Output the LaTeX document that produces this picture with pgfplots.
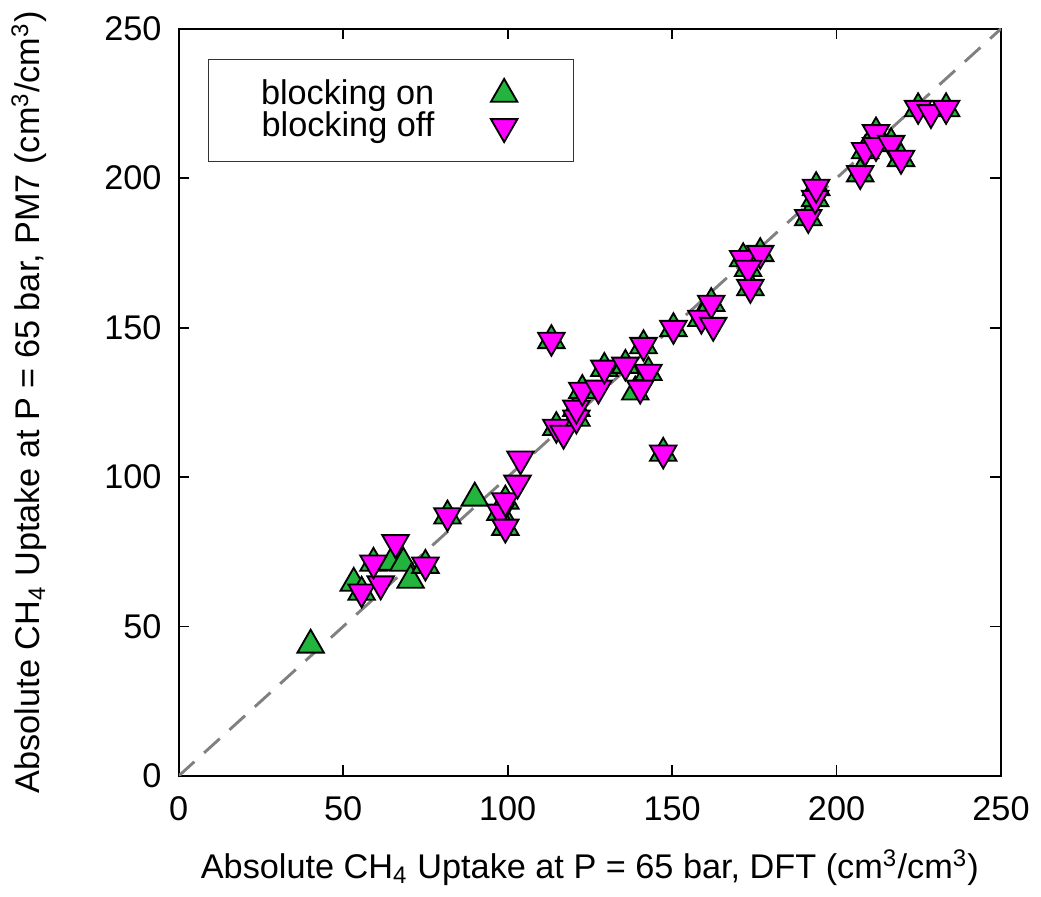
\documentclass[border=0pt]{standalone}
\usepackage{fontspec}
\setmainfont{Liberation Sans}
\usepackage{pgfplots}
\pgfplotsset{compat=1.18}
\definecolor{gr}{RGB}{34,180,60}
\definecolor{mg}{RGB}{255,0,255}
\pgfplotsset{mylegend/.style={legend image code/.code={\draw[##1] plot coordinates {(0.85cm,0cm)}; \path (0cm,0cm) (1.13cm,0cm);}}}
\begin{document}
\fontsize{13}{15.5}\selectfont
\begin{tikzpicture}
\begin{axis}[
  scale only axis,
  width=312pt, height=283.5pt,
  xmin=0, xmax=250, ymin=0, ymax=250,
  xtick={0,50,100,150,200,250},
  ytick={0,50,100,150,200,250},
  tick align=inside,
  major tick length=4pt,
  axis line style={line width=0.8pt},
  every tick/.style={black, line width=0.7pt},
  /pgf/number format/assume math mode=true,
  tick label style={font=\fontsize{13}{15.5}\selectfont},
  yticklabel style={xshift=-2pt},
  xticklabel style={yshift=-3.5pt},
  label style={font=\fontsize{13}{15.5}\selectfont},
  xlabel={Absolute CH\textsubscript{4} Uptake at P = 65 bar, DFT (cm\textsuperscript{3}/cm\textsuperscript{3})},
  ylabel={Absolute CH\textsubscript{4} Uptake at P = 65 bar, PM7 (cm\textsuperscript{3}/cm\textsuperscript{3})},
  xlabel style={yshift=-2pt},
  ylabel style={yshift=13pt},
  legend plot pos=right,
  legend cell align=right,
  legend style={at={(0.035,0.96)}, anchor=north west, draw=black!80, line width=0.6pt,
    inner xsep=18pt, inner ysep=5.5pt, font=\fontsize{13}{15.5}\selectfont, row sep=-3pt},
]
\addplot[gray, line width=1.1pt, dash pattern=on 8pt off 5pt, forget plot] coordinates {(0,0) (250,250)};
\addplot[only marks, mark=triangle*, mark size=5.8pt, mark options={fill=gr, draw=black, line width=0.7pt}, mylegend] coordinates {
(40.1,43.8) (53.2,64.5) (55.6,61.5) (59.2,71.2) (64.7,71.5) (68.3,71.2) (70.5,65.5) (75.0,70.5)
(81.7,87.0) (90.0,93.0) (97.8,88.2) (99.3,92.0) (99.3,83.2) (113.3,145.7) (114.8,116.6)
(120.9,119.7) (120.9,123.0) (122.7,129.0) (129.4,136.4) (135.8,137.4) (138.8,128.5)
(141.3,144.0) (142.8,135.0) (147.3,108.0) (150.4,149.7) (158.9,153.1) (161.9,158.1)
(171.6,173.1) (176.8,174.8) (173.1,169.8) (173.8,163.4) (191.4,186.8) (193.5,193.2)
(193.8,196.9) (207.2,201.5) (208.7,209.2) (212.0,215.2) (216.6,211.6) (219.6,206.6)
(224.8,223.3) (233.3,223.3)
};
\addlegendentry{blocking on}
\addplot[only marks, mark=triangle*, mark size=5.8pt, mark options={rotate=180, fill=mg, draw=black, line width=0.7pt}, mylegend] coordinates {
(55.6,61.5) (61.4,64.2) (59.2,71.2) (65.9,78.0) (75.0,70.5) (81.7,87.0) (97.8,88.2) (99.3,92.0)
(99.3,83.2) (103.0,97.9) (103.9,106.0) (113.3,145.7) (114.8,116.6) (117.0,114.6) (120.9,119.7)
(120.9,123.0) (122.7,129.0) (127.6,129.7) (129.4,136.4) (135.8,137.4) (141.3,144.0) (142.8,135.0)
(140.3,129.7) (147.3,108.0) (150.4,149.7) (158.9,153.1) (161.9,158.1) (162.5,150.7) (171.6,173.1)
(176.8,174.8) (173.1,169.8) (173.8,163.4) (191.4,186.8) (193.5,193.2) (193.8,196.9) (207.2,201.5)
(208.7,209.2) (212.0,215.2) (212.0,210.9) (216.6,211.6) (219.6,206.6) (224.8,223.3) (228.7,221.9)
(233.3,223.3)
};
\addlegendentry{blocking off}
\end{axis}
\end{tikzpicture}
\end{document}
